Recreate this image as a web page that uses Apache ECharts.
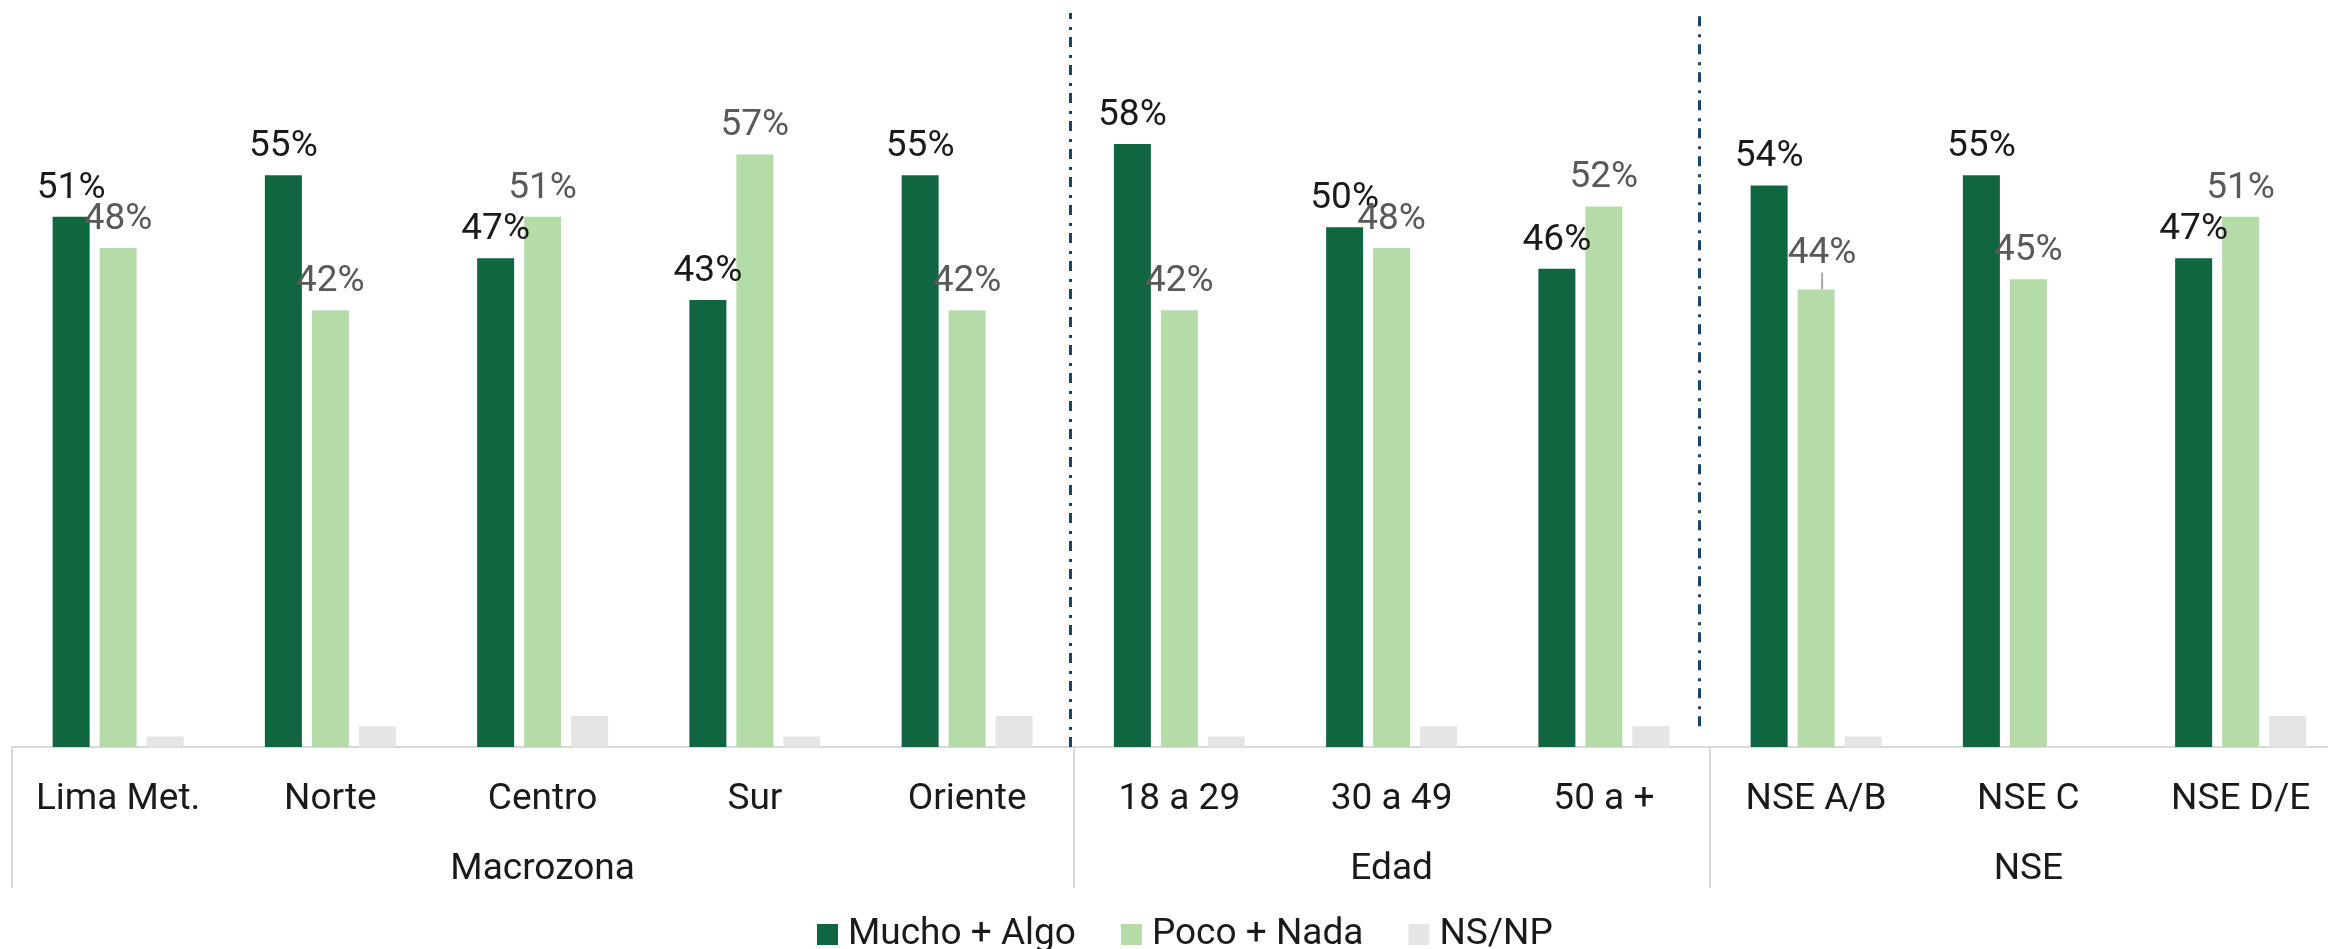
<!DOCTYPE html>
<html><head><meta charset="utf-8">
<script src="https://cdn.jsdelivr.net/npm/echarts@6/dist/echarts.min.js"></script>
<style>html,body{margin:0;padding:0;background:#fff}#c{width:2328px;height:949px}</style>
</head><body><div id="c"></div>
<script>
const categories = ['Lima Met.', 'Norte', 'Centro', 'Sur', 'Oriente', '18 a 29', '30 a 49', '50 a +', 'NSE A/B', 'NSE C', 'NSE D/E'];
const groupNames = ['Macrozona', 'Edad', 'NSE'];
const groupSizes = [5, 3, 3];
const seriesNames = ['Mucho + Algo', 'Poco + Nada', 'NS/NP'];
const muchoAlgo = [51, 55, 47, 43, 55, 58, 50, 46, 54, 55, 47];
const pocoNada = [48, 42, 51, 57, 42, 42, 48, 52, 44, 45, 51];
const nsnp = [1, 2, 3, 1, 3, 1, 2, 2, 1, 0, 3];

// group label row and boundaries derived from group sizes
const groupLabels = categories.map(() => '');
const boundaries = [0];
let acc = 0;
groupSizes.forEach((s, i) => {
  groupLabels[acc + Math.floor(s / 2)] = groupNames[i];
  acc += s;
  boundaries.push(acc);
});

const FONT = 'Roboto';
const YMAX = 70.6;
const MOVED_LABEL = 8; // 'NSE A/B' light label carries a leader line in the reference
const pocoData = pocoNada.map((v, i) => i === MOVED_LABEL
  ? {value: v, labelLine: {show: true, lineStyle: {color: '#a6a6a6', width: 2}}}
  : v);

const chart = echarts.init(document.getElementById('c'), null, {renderer: 'canvas'});
chart.setOption({
  animation: false,
  backgroundColor: '#ffffff',
  textStyle: {fontFamily: FONT},
  grid: {left: 12, right: -18.75, top: 13, bottom: 202, containLabel: false, outerBoundsMode: 'none'},
  legend: {
    data: seriesNames,
    left: 812, top: 911,
    icon: 'rect', itemWidth: 21, itemHeight: 21, itemGap: 45,
    textStyle: {fontFamily: FONT, fontSize: 37, color: '#1a1a1a', padding: [0, 0, 0, 5]}
  },
  xAxis: [
    {
      type: 'category', data: categories, position: 'bottom',
      axisLine: {show: true, lineStyle: {color: '#d9d9d9', width: 2}},
      axisTick: {show: true, length: 141, lineStyle: {color: '#d9d9d9', width: 2},
        interval: (idx) => boundaries.indexOf(idx) >= 0},
      axisLabel: {interval: 0, fontFamily: FONT, fontSize: 37, color: '#1a1a1a', margin: 34}
    },
    {
      type: 'category', data: groupLabels, position: 'bottom',
      axisLine: {show: false}, axisTick: {show: false},
      axisLabel: {interval: 0, fontFamily: FONT, fontSize: 37, color: '#1a1a1a', margin: 104}
    },
    {type: 'value', min: 0, max: categories.length, show: false, position: 'top'}
  ],
  yAxis: {type: 'value', min: 0, max: YMAX, show: false},
  series: [
    {
      name: seriesNames[0], type: 'bar', data: muchoAlgo, barWidth: 37, barGap: '27%',
      itemStyle: {color: '#0f6641'},
      label: {show: true, position: 'top', distance: 10, formatter: '{c}%', fontFamily: FONT, fontSize: 37, color: '#1a1a1a'}
    },
    {
      name: seriesNames[1], type: 'bar', data: pocoData, barWidth: 37, barGap: '27%',
      itemStyle: {color: '#b5dba8'},
      label: {show: true, position: 'top', distance: 10, formatter: '{c}%', fontFamily: FONT, fontSize: 37, color: '#595959'},
      labelLayout: (p) => (p.dataIndex === MOVED_LABEL ? {dx: 6, dy: -7} : {}),
      labelLine: {show: false}
    },
    {
      name: seriesNames[2], type: 'bar', data: nsnp, barWidth: 37, barGap: '27%',
      itemStyle: {color: '#e5e5e5'},
      label: {show: false}
    },
    {
      type: 'line', xAxisIndex: 2, yAxisIndex: 0, data: [], silent: true,
      markLine: {
        symbol: 'none', silent: true, animation: false,
        label: {show: false},
        lineStyle: {color: '#17456b', width: 3, type: [10, 7, 3, 8]},
        data: [
          [{coord: [boundaries[1] - 0.015, 0]}, {coord: [boundaries[1] - 0.015, YMAX]}],
          [{coord: [boundaries[2] - 0.052, 2]}, {coord: [boundaries[2] - 0.052, YMAX]}]
        ]
      }
    }
  ]
});
</script>
</body></html>
